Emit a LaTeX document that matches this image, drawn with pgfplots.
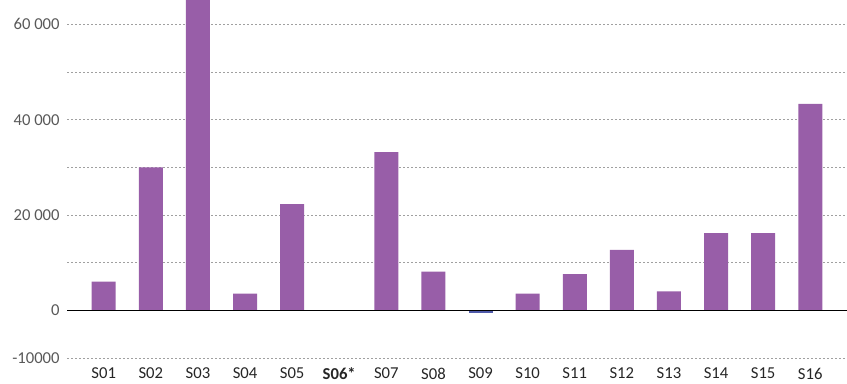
\documentclass[border=0pt]{standalone}
\usepackage{pgfplots}
\pgfplotsset{compat=1.18}
\usepackage{fontspec}
\setmainfont{Carlito}
\definecolor{barpurple}{HTML}{985EA8}
\definecolor{barblue}{HTML}{4F5AAA}
\definecolor{tickgray}{HTML}{595959}
\definecolor{gridgray}{HTML}{A0A0A0}
\begin{document}
\begin{tikzpicture}
\begin{axis}[
    scale only axis,
    width=585pt,
    height=268.5pt,
    ybar,
    bar width=18pt,
    bar shift=0pt,
    xmin=-0.78, xmax=15.78,
    ymin=-10000, ymax=65100,
    xtick={0,...,15},
    xticklabels={S01,S02,S03,S04,S05,\textbf{S06*},S07,S08,S09,S10,S11,S12,S13,S14,S15,S16},
    ytick={-10000,0,20000,40000,60000},
    yticklabels={-10000,0,20 000,40 000,60 000},
    minor ytick={10000,30000,50000},
    ymajorgrids, yminorgrids,
    major grid style={gridgray, dash pattern=on 1.4pt off 1.6pt, line width=0.7pt},
    minor grid style={gridgray, dash pattern=on 1.4pt off 1.6pt, line width=0.7pt},
    axis line style={draw=none},
    major tick length=0pt, minor tick length=0pt,
    tick style={draw=none},
    yticklabel style={font=\fontsize{12.5}{14}\selectfont, text=tickgray, xshift=-2pt},
    xticklabel style={font=\fontsize{12.5}{14}\selectfont, text=black!85, yshift=-4pt},
    clip=true,
]
\addplot[fill=barpurple, draw=none] coordinates {
    (0,6000) (1,30000) (2,72000) (3,3500) (4,22300) (5,0) (6,33200) (7,8100)
    (9,3500) (10,7600) (11,12700) (12,4000) (13,16200) (14,16200) (15,43300)
};
\addplot[fill=barblue, draw=none] coordinates {(8,-600)};
\draw[black, line width=0.9pt] (axis cs:-0.78,0) -- (axis cs:15.78,0);
\coordinate (bl) at (rel axis cs:0,0);
\coordinate (tr) at (rel axis cs:1,1);
\end{axis}
\pgfresetboundingbox
\path (bl) ++(-50.25pt,-19pt) rectangle (tr);
\end{tikzpicture}
\end{document}
